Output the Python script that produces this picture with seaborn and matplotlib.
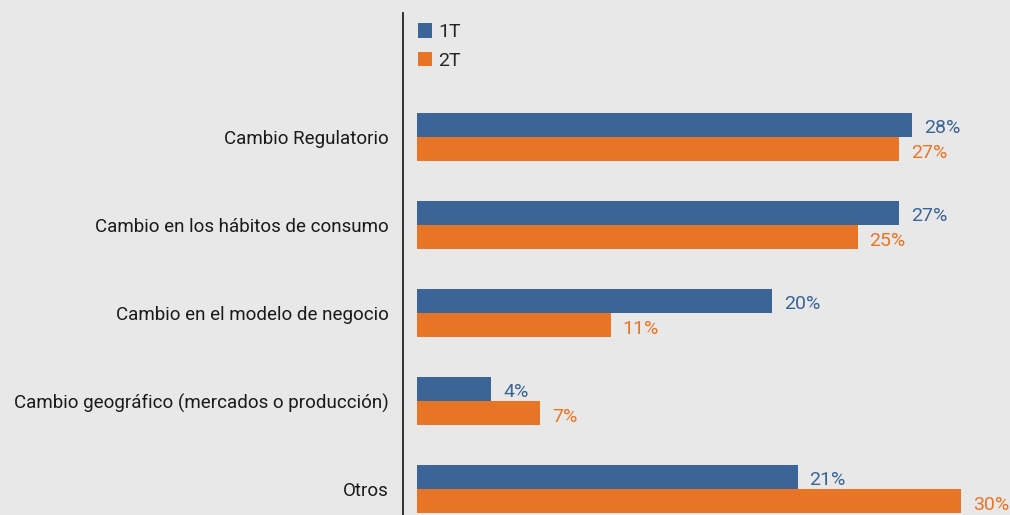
import pandas as pd
import matplotlib.pyplot as plt
import seaborn as sns

# Data (bar lengths, labels as printed)
categories = ['Cambio Regulatorio', 'Cambio en los hábitos de consumo',
              'Cambio en el modelo de negocio',
              'Cambio geográfico (mercados o producción)', 'Otros']
t1_values = [27.3, 26.6, 19.6, 4.1, 21.0]
t2_values = [26.6, 24.3, 10.7, 6.8, 30.0]
t1_labels = ['28%', '27%', '20%', '4%', '21%']
t2_labels = ['27%', '25%', '11%', '7%', '30%']
series = ['1T', '2T']

df = pd.DataFrame({
    'cat': categories * 2,
    'val': t1_values + t2_values,
    'serie': [series[0]] * len(categories) + [series[1]] * len(categories),
})

BG = '#e8e8e8'
BLUE = '#3b6497'
ORANGE = '#e87425'

sns.set_theme(style='white')
plt.rcParams['font.family'] = ['Roboto', 'DejaVu Sans']

fig = plt.figure(figsize=(10.1, 5.15), dpi=100, facecolor=BG)
ax = fig.add_axes([403 / 1010, 0, 607 / 1010, 502 / 515])
ax.set_facecolor(BG)

sns.barplot(data=df, x='val', y='cat', hue='serie', hue_order=series,
            palette=[BLUE, ORANGE], width=0.545, gap=0, dodge=True,
            orient='h', ax=ax, saturation=1, linewidth=0)

s = 18.13  # px per percent
ax.set_xlim(-14 / s, (1010 - 417) / s)
ax.set_ylim((515 - 137) / 88, (13 - 137) / 88)

# value labels
off = 0.545 / 4
for i in range(len(categories)):
    ax.text(t1_values[i] + 0.65, i - off + 0.03, t1_labels[i], color=BLUE,
            fontsize=14, va='center', ha='left')
    ax.text(t2_values[i] + 0.65, i + off + 0.05, t2_labels[i], color=ORANGE,
            fontsize=14, va='center', ha='left')

ax.set_xlabel('')
ax.set_ylabel('')
ax.set_xticks([])
ax.tick_params(axis='y', length=0, pad=10, labelsize=13.5, labelcolor='#1a1a1a')
for side in ['top', 'right', 'bottom']:
    ax.spines[side].set_visible(False)
ax.spines['left'].set_color('#222222')
ax.spines['left'].set_linewidth(1.3)

handles, labels = ax.get_legend_handles_labels()
ax.legend(handles, labels, loc='upper left', bbox_to_anchor=(7 / 607, 0.995),
          frameon=False, handlelength=0.75, handleheight=0.75,
          handletextpad=0.3, labelspacing=0.55, borderaxespad=0,
          fontsize=14)

fig.savefig('out.png', dpi=100, facecolor=BG)
